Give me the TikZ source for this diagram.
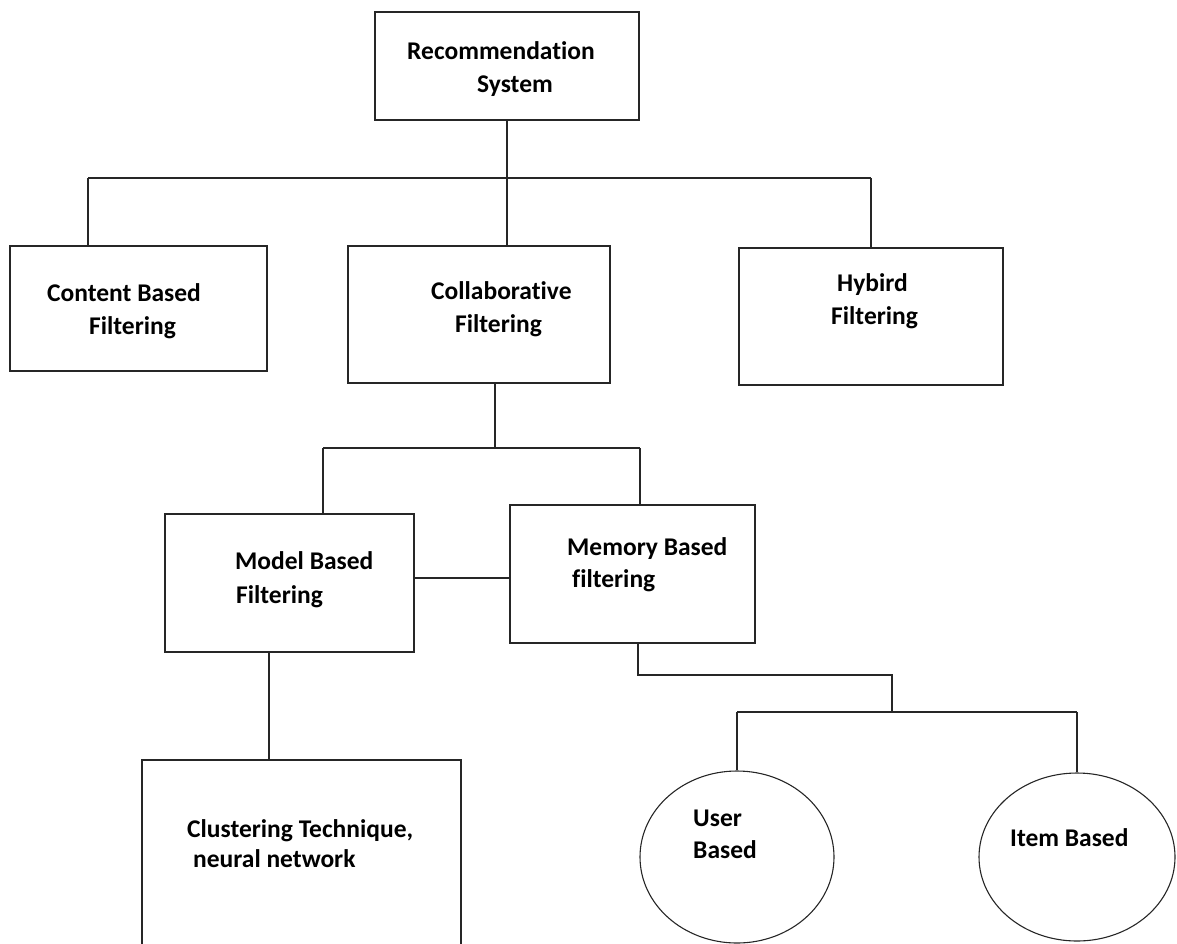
\documentclass[tikz,border=0pt]{standalone}
\usepackage{fontspec}
\setmainfont{Carlito}[Ligatures=NoCommon]
\usetikzlibrary{shapes.geometric}
\begin{document}
\begin{tikzpicture}[x=1pt,y=-1pt,
  box/.style={draw=black!85,line width=1.3pt,rectangle,inner sep=0pt},
  oval/.style={draw=black!85,line width=1.1pt,ellipse,inner sep=0pt},
  conn/.style={draw=black!85,line width=1.3pt},
  lbl/.style={anchor=base west,inner sep=0pt,font=\fontsize{25.5}{33}\selectfont\bfseries,text=black}]
\useasboundingbox (0,0) rectangle (1177,943);
\clip (0,0) rectangle (1177,943);
% boxes
\node[box,minimum width=264pt,minimum height=108pt] (rec) at (507,66) {};
\node[box,minimum width=257pt,minimum height=125pt] (cnt) at (138.5,308.5) {};
\node[box,minimum width=262pt,minimum height=137pt] (col) at (479,314.5) {};
\node[box,minimum width=264pt,minimum height=137pt] (hyb) at (871,316.5) {};
\node[box,minimum width=249pt,minimum height=138pt] (mod) at (289.5,583) {};
\node[box,minimum width=245pt,minimum height=138pt] (mem) at (632.5,574) {};
\node[box,minimum width=319pt,minimum height=210pt] (clu) at (301.5,865) {};
\node[oval,minimum width=194pt,minimum height=172pt] (usr) at (737,857) {};
\node[oval,minimum width=196pt,minimum height=168pt] (itm) at (1077,857) {};
% labels
\node[lbl] (t1) at (407,59) {Recommendation};
\node[lbl] (t2) at (477,92) {System};
\node[lbl] (t3) at (47,301) {Content Based};
\node[lbl] (t4) at (89,334) {Filtering};
\node[lbl] (t5) at (431,299) {Collaborative};
\node[lbl] (t6) at (455,332) {Filtering};
\node[lbl] (t7) at (837,291) {Hybird};
\node[lbl] (t8) at (831,324) {Filtering};
\node[lbl] (t9) at (235,569) {Model Based};
\node[lbl] (t10) at (236,603) {Filtering};
\node[lbl] (t11) at (567,555) {Memory Based};
\node[lbl] (t12) at (572,587) {filtering};
\node[lbl] (t13) at (187,837) {Clustering Technique,};
\node[lbl] (t14) at (193,867) {neural network};
\node[lbl] (t15) at (693,826) {User};
\node[lbl] (t16) at (693,858) {Based};
\node[lbl] (t17) at (1010,846) {Item Based};
% connector coordinates
\coordinate (bL) at (88,178);
\coordinate (bR) at (871,178);
\coordinate (c1) at (495,448);
\coordinate (mL) at (323,448);
\coordinate (mR) at (640,448);
\coordinate (hy) at (0,578);
\coordinate (cl) at (269,0);
\coordinate (e1) at (638,675);
\coordinate (e2) at (892,675);
\coordinate (e3) at (892,712);
\coordinate (uL) at (737,712);
\coordinate (uR) at (1077,712);
% connectors
\draw[conn] (rec.south) -- (rec.south |- col.north);
\draw[conn] (bL) -- (bR);
\draw[conn] (bL) -- (bL |- cnt.north);
\draw[conn] (bR) -- (hyb.north);
\draw[conn] (col.south -| c1) -- (c1);
\draw[conn] (mL) -- (mR);
\draw[conn] (mL) -- (mL |- mod.north);
\draw[conn] (mR) -- (mR |- mem.north);
\draw[conn] (mod.east |- hy) -- (mem.west |- hy);
\draw[conn] (mod.south -| cl) -- (cl |- clu.north);
\draw[conn] (mem.south -| e1) -- (e1) -- (e2) -- (e3);
\draw[conn] (uL) -- (uR);
\draw[conn] (uL) -- (usr.north);
\draw[conn] (uR) -- (itm.north);
\end{tikzpicture}
\end{document}
